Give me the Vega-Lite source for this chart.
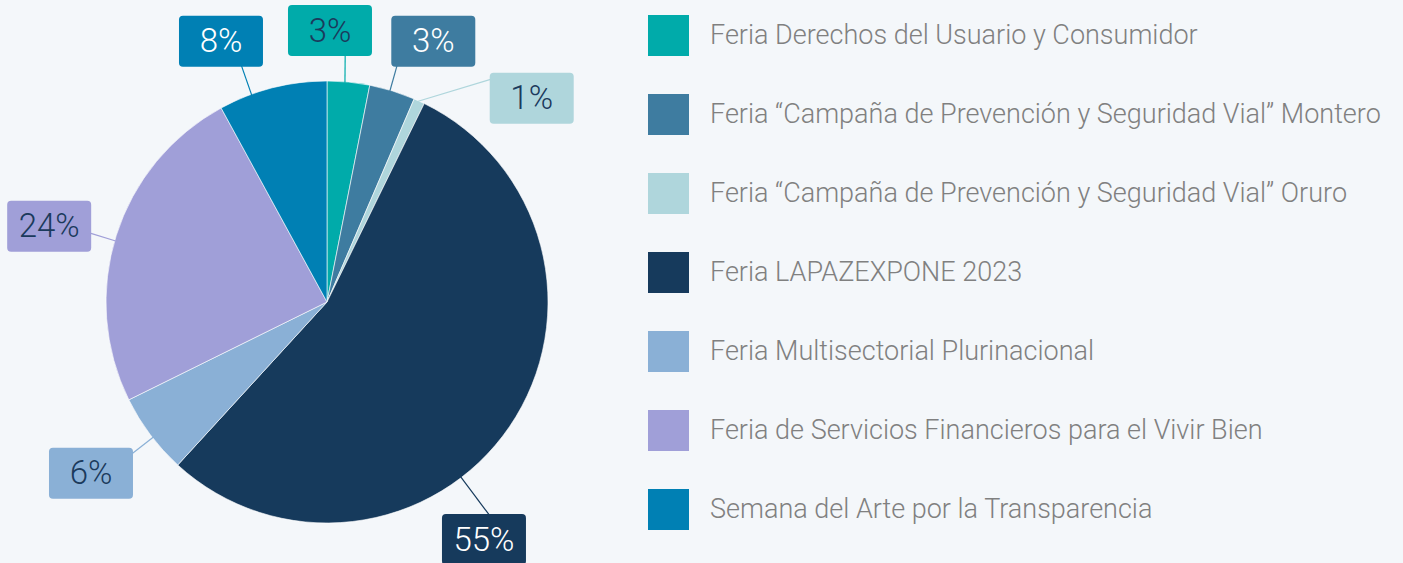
{
  "$schema": "https://vega.github.io/schema/vega-lite/v6.json",
  "width": 654,
  "height": 604,
  "autosize": {"type": "none"},
  "padding": {"left": 0, "top": 0, "right": 749, "bottom": 0},
  "background": "#f4f7fa",
  "config": {"view": {"stroke": null}},
  "data": {
    "values": [
      {"i": 0, "cat": "Feria Derechos del Usuario y Consumidor", "value": 3.1},
      {"i": 1, "cat": "Feria “Campaña de Prevención y Seguridad Vial” Montero", "value": 3.35},
      {"i": 2, "cat": "Feria “Campaña de Prevención y Seguridad Vial” Oruro", "value": 0.8},
      {"i": 3, "cat": "Feria LAPAZEXPONE 2023", "value": 54.55},
      {"i": 4, "cat": "Feria Multisectorial Plurinacional", "value": 5.9},
      {"i": 5, "cat": "Feria de Servicios Financieros para el Vivir Bien", "value": 24.35},
      {"i": 6, "cat": "Semana del Arte por la Transparencia", "value": 7.95}
    ]
  },
  "layer": [
    {
      "mark": {"type": "arc", "outerRadius": 221, "stroke": "#ffffff", "strokeWidth": 0.6},
      "encoding": {
        "theta": {"field": "value", "type": "quantitative", "stack": true},
        "order": {"field": "i", "type": "quantitative"},
        "color": {
          "field": "cat",
          "type": "nominal",
          "scale": {
            "domain": [
              "Feria Derechos del Usuario y Consumidor",
              "Feria “Campaña de Prevención y Seguridad Vial” Montero",
              "Feria “Campaña de Prevención y Seguridad Vial” Oruro",
              "Feria LAPAZEXPONE 2023",
              "Feria Multisectorial Plurinacional",
              "Feria de Servicios Financieros para el Vivir Bien",
              "Semana del Arte por la Transparencia"
            ],
            "range": ["#00abaa", "#3e7ca0", "#afd6dc", "#163a5c", "#8ab0d6", "#a09fd8", "#0080b4"]
          },
          "legend": {
            "title": null,
            "orient": "none",
            "legendX": 648,
            "legendY": 15,
            "symbolType": "square",
            "symbolSize": 1681,
            "symbolStrokeWidth": 0,
            "symbolOpacity": 1,
            "labelFont": "Roboto",
            "labelFontWeight": 300,
            "labelFontSize": 27,
            "labelColor": "#808080",
            "labelOffset": 21,
            "labelLimit": 900,
            "rowPadding": 38,
            "padding": 0
          }
        }
      }
    },
    {
      "transform": [
        {"calculate": "[4.68, 16.6, 24.25, 142.6, 232.1, 286.1, 340][datum.i] * PI / 180", "as": "a1"},
        {"calculate": "[4.18, 16.5, 36.3, 142.7, 232.1, 286.2, 340.1][datum.i] * PI / 180", "as": "a2"},
        {"calculate": "[1.13, 1.12, 1.25, 1.21, 1.12, 1.12, 1.14][datum.i]", "as": "r2"},
        {"calculate": "0.995 * sin(datum.a1)", "as": "x1"},
        {"calculate": "0.995 * cos(datum.a1)", "as": "y1"},
        {"calculate": "datum.r2 * sin(datum.a2)", "as": "x2"},
        {"calculate": "datum.r2 * cos(datum.a2)", "as": "y2"}
      ],
      "mark": {"type": "rule", "strokeWidth": 1.2},
      "encoding": {
        "x": {"field": "x1", "type": "quantitative", "scale": {"domain": [-1.4796, 1.4796], "nice": false, "zero": false}, "axis": null},
        "y": {"field": "y1", "type": "quantitative", "scale": {"domain": [-1.3665, 1.3665], "nice": false, "zero": false}, "axis": null},
        "x2": {"field": "x2"},
        "y2": {"field": "y2"},
        "color": {"field": "cat", "type": "nominal"}
      }
    },
    {
      "transform": [
        {"calculate": "[0.63, 22.18, 45.14, 146.54, 234.03, 285.26, 337.87][datum.i] * PI / 180", "as": "la"},
        {"calculate": "[1.2285, 1.2739, 1.3068, 1.2882, 1.3195, 1.3030, 1.2734][datum.i]", "as": "lr"},
        {"calculate": "datum.lr * sin(datum.la)", "as": "lx"},
        {"calculate": "datum.lr * cos(datum.la)", "as": "ly"}
      ],
      "mark": {
        "type": "point",
        "filled": true,
        "opacity": 1,
        "strokeWidth": 0,
        "size": 7056,
        "shape": "M-0.905,-0.607L0.905,-0.607Q1,-0.607 1,-0.512L1,0.512Q1,0.607 0.905,0.607L-0.905,0.607Q-1,0.607 -1,0.512L-1,-0.512Q-1,-0.607 -0.905,-0.607Z"
      },
      "encoding": {
        "x": {"field": "lx", "type": "quantitative"},
        "y": {"field": "ly", "type": "quantitative"},
        "color": {"field": "cat", "type": "nominal"}
      }
    },
    {
      "transform": [
        {"calculate": "[0.63, 22.18, 45.14, 146.54, 234.03, 285.26, 337.87][datum.i] * PI / 180", "as": "la"},
        {"calculate": "[1.2285, 1.2739, 1.3068, 1.2882, 1.3195, 1.3030, 1.2734][datum.i]", "as": "lr"},
        {"calculate": "datum.lr * sin(datum.la)", "as": "lx"},
        {"calculate": "datum.lr * cos(datum.la)", "as": "ly"},
        {"calculate": "format(datum.value, '.0f') + '%'", "as": "pct"}
      ],
      "mark": {"type": "text", "font": "Roboto", "fontWeight": 300, "fontSize": 33, "align": "center", "baseline": "middle", "dy": 1},
      "encoding": {
        "x": {"field": "lx", "type": "quantitative"},
        "y": {"field": "ly", "type": "quantitative"},
        "text": {"field": "pct", "type": "nominal"},
        "fill": {
          "field": "i",
          "type": "nominal",
          "scale": {"domain": [0, 1, 2, 3, 4, 5, 6], "range": ["#1b3a5c", "#ffffff", "#1b3a5c", "#ffffff", "#1b3a5c", "#1b3a5c", "#ffffff"]},
          "legend": null
        }
      }
    }
  ]
}
